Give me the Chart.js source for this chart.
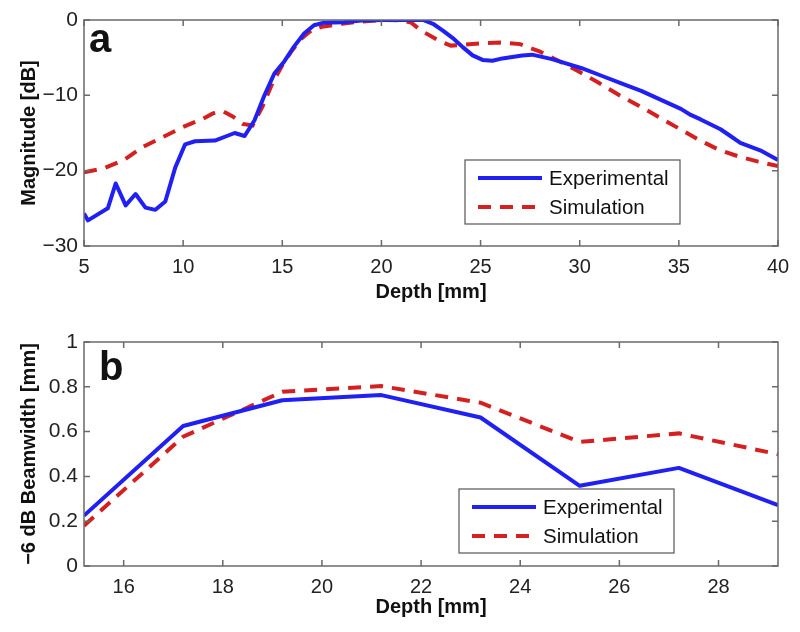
<!DOCTYPE html>
<html>
<head>
<meta charset="utf-8">
<script src="https://cdn.jsdelivr.net/npm/chart.js@4/dist/chart.umd.min.js"></script>
<style>
  body { margin: 0; background: #fff; }
  .panel { position: absolute; left: 0; width: 800px; height: 316px; }
</style>
</head>
<body>
<div class="panel" style="top:0"><canvas id="chartA" width="800" height="316"></canvas></div>
<div class="panel" style="top:316px"><canvas id="chartB" width="800" height="316"></canvas></div>
<script>
// panel a: magnitude vs depth
const depthExpA = [5, 5.2, 6.2, 6.6, 7.1, 7.6, 8.1, 8.6, 9.1, 9.6, 10.1, 10.6, 11.6, 12.6, 13.1, 13.6, 14.1, 14.6, 15.1, 15.6, 16.1, 16.6, 17.1, 18.1, 19.1, 20.1, 21.1, 22.1, 22.6, 23.1, 23.6, 24.1, 24.6, 25.1, 25.6, 26.1, 26.6, 27.1, 27.6, 28.1, 28.6, 29.1, 30.1, 31.1, 32.1, 33.1, 34.1, 35.1, 35.6, 36.1, 37.1, 37.6, 38.1, 39.1, 40];
const magExpA = [-25.7, -26.6, -25.0, -21.7, -24.6, -23.1, -24.9, -25.2, -24.1, -19.6, -16.5, -16.1, -16.0, -15.0, -15.4, -13.3, -10.0, -7.1, -5.5, -3.5, -1.8, -0.7, -0.35, -0.3, -0.05, 0, 0, 0, -0.5, -1.4, -2.4, -3.6, -4.7, -5.3, -5.4, -5.1, -4.9, -4.7, -4.6, -4.9, -5.2, -5.6, -6.4, -7.4, -8.4, -9.4, -10.6, -11.8, -12.6, -13.2, -14.5, -15.4, -16.3, -17.3, -18.6];
const depthSimA = [5, 6, 7, 8, 9, 10, 11, 11.5, 12, 12.5, 13, 13.5, 14, 14.5, 15, 15.5, 16, 16.5, 17, 18, 19, 20, 21, 21.5, 22, 23, 23.5, 24, 25, 26, 27, 28, 29, 30, 31, 32, 33, 34, 35, 36, 37, 38, 39, 40];
const magSimA = [-20.2, -19.7, -18.6, -16.8, -15.5, -14.2, -13.1, -12.4, -12.1, -12.8, -13.8, -14.0, -11.5, -8.4, -6.0, -4.0, -2.4, -1.3, -0.9, -0.5, -0.2, 0, -0.05, -0.35, -1.4, -2.9, -3.4, -3.3, -3.1, -3.0, -3.2, -4.2, -5.5, -6.9, -8.4, -10.0, -11.4, -12.9, -14.4, -15.9, -17.2, -18.1, -18.8, -19.4];
const xTicksA = [5, 10, 15, 20, 25, 30, 35, 40];
const yTicksA = [-30, -20, -10, 0];

// panel b: -6 dB beamwidth vs depth
const depthB = [15.2, 17.2, 19.2, 21.2, 23.2, 25.2, 27.2, 29.2];
const widthExpB = [0.225, 0.625, 0.74, 0.763, 0.663, 0.358, 0.438, 0.272];
const widthSimB = [0.18, 0.577, 0.778, 0.803, 0.729, 0.554, 0.592, 0.499];
const xTicksB = [16, 18, 20, 22, 24, 26, 28];
const yTicksB = [0, 0.2, 0.4, 0.6, 0.8, 1];

const seriesNames = ['Experimental', 'Simulation'];
const blue = '#2020f2';
const red = '#d42020';
const dash = [13, 9];
const fontFam = '"Liberation Sans", Arial, Helvetica, sans-serif';

function pts(xs, ys) {
  return xs.map((x, i) => ({ x: x, y: ys[i] }));
}

function fmt(v) {
  return String(v).replace('-', '\u2212');
}

// frame, inward ticks, panel letter and boxed legend
const matlabAxes = {
  id: 'matlabAxes',
  afterDatasetsDraw(chart, args, opts) {
    const ctx = chart.ctx;
    const a = chart.chartArea;
    const sx = chart.scales.x, sy = chart.scales.y;
    ctx.save();
    ctx.strokeStyle = '#6a6a6a';
    ctx.lineWidth = 1.5;
    ctx.strokeRect(a.left, a.top, a.right - a.left, a.bottom - a.top);
    const tl = 6;
    ctx.beginPath();
    sx.ticks.forEach(t => {
      const px = sx.getPixelForValue(t.value);
      ctx.moveTo(px, a.bottom); ctx.lineTo(px, a.bottom - tl);
      ctx.moveTo(px, a.top); ctx.lineTo(px, a.top + tl);
    });
    sy.ticks.forEach(t => {
      const py = sy.getPixelForValue(t.value);
      ctx.moveTo(a.left, py); ctx.lineTo(a.left + tl, py);
      ctx.moveTo(a.right, py); ctx.lineTo(a.right - tl, py);
    });
    ctx.stroke();

    // panel letter
    ctx.fillStyle = '#111';
    ctx.font = 'bold 40px ' + fontFam;
    ctx.textBaseline = 'alphabetic';
    ctx.fillText(opts.letter, a.left + opts.letterDx, a.top + opts.letterDy);

    // legend
    const lx = opts.legendX, ly = opts.legendY;
    ctx.fillStyle = '#fff';
    ctx.fillRect(lx, ly, 215, 64);
    ctx.strokeStyle = '#555';
    ctx.lineWidth = 1.2;
    ctx.strokeRect(lx, ly, 215, 64);
    const rows = [{ c: blue, d: [] }, { c: red, d: dash }];
    ctx.font = '20.5px ' + fontFam;
    ctx.textBaseline = 'middle';
    rows.forEach((r, i) => {
      const yy = ly + 18 + i * 29;
      ctx.strokeStyle = r.c;
      ctx.lineWidth = 4;
      ctx.setLineDash(r.d);
      ctx.beginPath();
      ctx.moveTo(lx + 13, yy); ctx.lineTo(lx + 77, yy);
      ctx.stroke();
      ctx.setLineDash([]);
      ctx.fillStyle = '#111';
      ctx.fillText(seriesNames[i], lx + 84, yy + 1);
    });
    ctx.restore();
  }
};

function makeChart(id, cfg) {
  return new Chart(document.getElementById(id), {
    type: 'line',
    data: {
      datasets: [
        { label: seriesNames[0], data: cfg.exp, borderColor: blue, borderWidth: 4, pointRadius: 0, tension: 0, borderJoinStyle: 'round' },
        { label: seriesNames[1], data: cfg.sim, borderColor: red, borderWidth: 4, borderDash: dash, pointRadius: 0, tension: 0 }
      ]
    },
    options: {
      responsive: false,
      animation: false,
      layout: { padding: { top: cfg.padTop, right: 22, left: 0, bottom: 0 } },
      plugins: {
        legend: { display: false },
        tooltip: { enabled: false },
        matlabAxes: cfg.deco
      },
      scales: {
        x: {
          type: 'linear',
          min: cfg.xMin, max: cfg.xMax,
          grid: { display: false, drawTicks: false },
          border: { display: false },
          afterBuildTicks: s => { s.ticks = cfg.xTicks.map(v => ({ value: v })); },
          afterFit: s => { s.height = cfg.xAxisH; },
          ticks: { padding: 9, color: '#222', font: { size: 20, family: fontFam }, callback: v => fmt(v), maxRotation: 0 },
          title: { display: true, text: 'Depth [mm]', color: '#111', font: { size: 20, weight: 'bold', family: fontFam }, padding: { top: 0, bottom: cfg.titlePadB } }
        },
        y: {
          type: 'linear',
          min: cfg.yMin, max: cfg.yMax,
          grid: { display: false, drawTicks: false },
          border: { display: false },
          afterBuildTicks: s => { s.ticks = cfg.yTicks.map(v => ({ value: v })); },
          afterFit: s => { s.width = 84; },
          ticks: { padding: 6, color: '#222', font: { size: 21, family: fontFam }, callback: v => fmt(v) },
          title: { display: true, text: cfg.yTitle, color: '#111', font: { size: 20, weight: 'bold', family: fontFam }, padding: { top: 17, bottom: 0 } }
        }
      }
    },
    plugins: [matlabAxes]
  });
}

makeChart('chartA', {
  exp: pts(depthExpA, magExpA), sim: pts(depthSimA, magSimA),
  xMin: 5, xMax: 40, yMin: -30, yMax: 0,
  xTicks: xTicksA, yTicks: yTicksA,
  padTop: 20, xAxisH: 70, titlePadB: 12,
  yTitle: 'Magnitude [dB]',
  deco: { letter: 'a', letterDx: 5, letterDy: 32, legendX: 465, legendY: 160 }
});

makeChart('chartB', {
  exp: pts(depthB, widthExpB), sim: pts(depthB, widthSimB),
  xMin: 15.2, xMax: 29.2, yMin: 0, yMax: 1,
  xTicks: xTicksB, yTicks: yTicksB,
  padTop: 26, xAxisH: 66, titlePadB: 13,
  yTitle: '\u22126 dB Beamwidth [mm]',
  deco: { letter: 'b', letterDx: 15, letterDy: 38, legendX: 459, legendY: 173 }
});
</script>
</body>
</html>
